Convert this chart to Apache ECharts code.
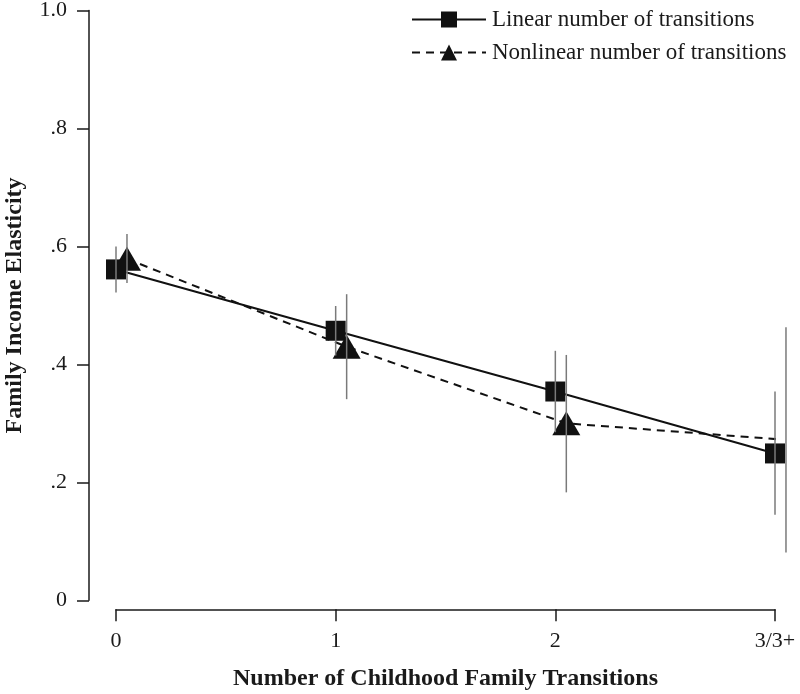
<!DOCTYPE html>
<html>
<head>
<meta charset="utf-8">
<script src="https://cdn.jsdelivr.net/npm/echarts@6/dist/echarts.min.js"></script>
<style>html,body{margin:0;padding:0;background:#fff;}#c{width:800px;height:694px;}</style>
</head>
<body>
<div id="c"></div>
<script>
// x positions (categories 0..3), tick labels
const xTickValues = [0, 1, 2, 3];
const xTickLabels = ['0', '1', '2', '3/3+'];
const yTickValues = [0, 0.2, 0.4, 0.6, 0.8, 1.0];
const yTickLabels = ['0', '.2', '.4', '.6', '.8', '1.0'];

// Linear number of transitions
const linearX = [0, 1, 2, 3];
const linearY = [0.561, 0.457, 0.354, 0.249];
const linearLo = [0.522, 0.415, 0.285, 0.145];
const linearHi = [0.600, 0.499, 0.423, 0.354];

// Nonlinear number of transitions (plotted slightly offset)
const nonlinX = [0.05, 1.05, 2.05, 3.05];
const nonlinY = [0.579, 0.430, 0.300, 0.272];
const nonlinLo = [0.538, 0.341, 0.183, 0.081];
const nonlinHi = [0.621, 0.519, 0.416, 0.463];

const FONT = '"Liberation Serif", "DejaVu Serif", serif';
const TXT = '#1a1a1a';

function pairs(xs, ys) { return xs.map((x, i) => [x, ys[i]]); }
function bars(xs, lo, hi) { return xs.map((x, i) => [x, lo[i], hi[i]]); }

function errRender(params, api) {
  const p1 = api.coord([api.value(0), api.value(1)]);
  const p2 = api.coord([api.value(0), api.value(2)]);
  return { type: 'line', shape: { x1: p1[0], y1: p1[1], x2: p2[0], y2: p2[1] },
           style: { stroke: '#7a7a7a', lineWidth: 1.5 } };
}

const chart = echarts.init(document.getElementById('c'), null, { renderer: 'canvas' });
chart.setOption({
  animation: false,
  backgroundColor: '#fff',
  grid: { left: 116, right: 25, top: 10.5, bottom: 93.7, containLabel: false, outerBoundsMode: 'none' },
  legend: {
    orient: 'vertical', left: 406, top: 3,
    itemWidth: 74, itemHeight: 20, itemGap: 10,
    textStyle: { fontFamily: FONT, fontSize: 23, color: TXT, padding: [0, 0, 0, 1] },
    data: ['Linear number of transitions', 'Nonlinear number of transitions']
  },
  xAxis: {
    type: 'value', min: 0, max: 3, interval: 1, offset: 9,
    axisLine: { show: true, onZero: false, lineStyle: { color: '#1a1a1a', width: 1.5 } },
    axisTick: { show: true, length: 12, lineStyle: { color: '#1a1a1a', width: 1.5 } },
    splitLine: { show: false },
    axisLabel: { fontFamily: FONT, fontSize: 22, color: TXT, margin: 21,
      formatter: v => { const i = xTickValues.indexOf(Math.round(v)); return i >= 0 ? xTickLabels[i] : ''; } },
    name: 'Number of Childhood Family Transitions', nameLocation: 'middle', nameGap: 57,
    nameMoveOverlap: false,
    nameTextStyle: { fontFamily: FONT, fontSize: 24, fontWeight: 'bold', color: TXT }
  },
  yAxis: {
    type: 'value', min: 0, max: 1, interval: 0.2, offset: 27,
    axisLine: { show: true, onZero: false, lineStyle: { color: '#1a1a1a', width: 1.5 } },
    axisTick: { show: true, length: 12, lineStyle: { color: '#1a1a1a', width: 1.5 } },
    splitLine: { show: false },
    axisLabel: { fontFamily: FONT, fontSize: 22, color: TXT, margin: 22,
      formatter: v => { const i = yTickValues.findIndex(t => Math.abs(t - v) < 1e-6); return i >= 0 ? yTickLabels[i] : ''; } },
    name: 'Family Income Elasticity', nameLocation: 'middle', nameGap: 62, nameRotate: 90,
    nameMoveOverlap: false,
    nameTextStyle: { fontFamily: FONT, fontSize: 24, fontWeight: 'bold', color: TXT }
  },
  series: [
    {
      name: 'Linear number of transitions', type: 'line', data: pairs(linearX, linearY),
      symbol: 'rect', symbolSize: 20, z: 3,
      lineStyle: { color: '#111', width: 2, type: 'solid' },
      itemStyle: { color: '#111' }
    },
    {
      name: 'Nonlinear number of transitions', type: 'line', data: pairs(nonlinX, nonlinY),
      symbol: 'triangle', symbolSize: [28, 24], z: 3,
      lineStyle: { color: '#111', width: 2, type: [8, 6] },
      itemStyle: { color: '#111' }
    },
    { type: 'custom', renderItem: errRender, data: bars(linearX, linearLo, linearHi), z: 5, silent: true },
    { type: 'custom', renderItem: errRender, data: bars(nonlinX, nonlinLo, nonlinHi), z: 5, silent: true }
  ]
});
</script>
</body>
</html>
